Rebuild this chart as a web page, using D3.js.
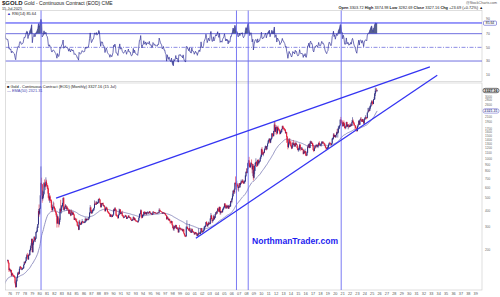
<!DOCTYPE html>
<html>
<head>
<meta charset="utf-8">
<script src="https://cdn.jsdelivr.net/npm/d3@7"></script>
<style>
    html, body { margin: 0; padding: 0; background: #fff; }
    svg { display: block; font-family: "Liberation Sans", Arial, sans-serif; }
</style>
</head>
<body>
<div id="chart"></div>
<script>
// monthly closes used only to warm up EMA / RSI (Jan 1972 - Jun 1975)
var warmupCloses = [
    48.3, 48.3, 48.3, 49.0, 54.6, 65.1, 67.0, 67.0, 65.5, 64.8, 62.9, 63.9,
    65.1, 74.2, 84.5, 90.5, 102.0, 120.0, 120.0, 106.8, 103.0, 100.1, 90.0, 106.7,
    129.0, 150.2, 168.4, 172.2, 163.3, 142.8, 154.1, 154.6, 151.8, 158.8, 181.7, 186.5,
    175.8, 181.8, 178.2, 167.0, 167.0, 165.5
];

// drawn bars start Jul 1975
var closes1970s = [
    166.7, 159.8, 141.3, 142.9, 138.2, 140.3,
    128.2, 132.3, 128.8, 128.4, 125.5, 123.8, 112.5, 104.3, 116.0, 123.2, 130.3, 134.5,
    132.3, 142.8, 148.9, 147.8, 143.0, 143.0, 144.1, 146.0, 154.1, 161.5, 160.5, 164.9,
    175.8, 182.3, 181.6, 170.9, 183.9, 183.1, 200.3, 208.1, 217.1, 242.6, 193.4, 226.0,
    233.7, 251.3, 240.1, 245.3, 274.6, 277.5, 296.5, 315.1, 397.3, 382.0, 415.7, 524.0
];
var highs1970s = [
    169, 168, 160, 146, 144, 141,
    141, 134, 134, 130, 129, 127, 124, 113, 118, 124, 134, 136,
    137, 144, 150, 151, 148, 144, 146, 147, 155, 164, 163, 166,
    177, 186, 190, 181, 185, 189, 201, 215, 225, 245, 245, 228,
    238, 256, 253, 247, 276, 282, 303, 316, 412, 446, 418, 525
];
var lows1970s = [
    163, 157, 136, 139, 137, 134,
    126, 127, 128, 126, 124, 122, 109, 103, 104, 115, 122, 129,
    129, 131, 142, 146, 141, 140, 141, 143, 145, 154, 157, 158,
    165, 172, 177, 168, 168, 180, 183, 195, 200, 217, 193, 191,
    218, 232, 233, 230, 244, 270, 276, 295, 315, 360, 372, 415
];

var closes1980s = [
    653.0, 637.0, 494.5, 517.5, 535.5, 653.5, 614.3, 631.3, 666.8, 629.0, 619.8, 589.8,
    506.5, 489.0, 513.8, 482.8, 479.0, 426.0, 406.0, 425.0, 428.8, 427.0, 414.5, 397.5,
    387.0, 362.6, 320.0, 361.3, 325.3, 317.5, 342.0, 411.5, 397.0, 423.3, 436.0, 456.9,
    499.5, 408.5, 414.8, 429.3, 437.5, 416.0, 422.0, 414.3, 405.0, 382.0, 405.0, 382.4,
    370.0, 394.3, 388.5, 375.8, 384.3, 373.8, 342.4, 347.7, 343.8, 333.5, 329.0, 309.0,
    306.7, 287.8, 329.3, 321.4, 314.0, 317.8, 327.5, 333.3, 326.0, 325.3, 325.3, 327.0,
    345.5, 338.8, 344.0, 345.8, 343.2, 345.5, 357.5, 384.7, 423.2, 401.0, 383.5, 391.0,
    404.2, 405.5, 419.4, 452.0, 451.0, 447.3, 462.5, 453.4, 459.5, 466.5, 492.5, 486.5,
    458.0, 426.2, 457.0, 451.5, 455.5, 436.6, 437.4, 427.8, 397.8, 412.2, 422.6, 410.2,
    394.0, 387.0, 383.2, 378.5, 362.5, 373.0, 368.3, 359.8, 366.5, 375.3, 408.2, 401.0
];
var highs1980s = [
    873, 716, 640, 570, 560, 660, 695, 640, 720, 690, 650, 630,
    600, 520, 545, 525, 490, 487, 430, 445, 470, 460, 432, 420,
    400, 390, 365, 375, 350, 330, 350, 420, 485, 440, 440, 460,
    505, 510, 425, 438, 450, 440, 430, 432, 420, 405, 410, 408,
    384, 410, 404, 390, 396, 390, 375, 356, 352, 348, 348, 330,
    312, 310, 337, 340, 324, 318, 330, 345, 330, 329, 332, 332,
    355, 350, 348, 350, 348, 348, 360, 390, 442, 430, 405, 392,
    410, 412, 421, 480, 470, 455, 475, 465, 468, 488, 494, 502,
    490, 458, 458, 460, 458, 462, 442, 440, 430, 418, 430, 425,
    415, 395, 395, 387, 380, 375, 376, 370, 369, 375, 410, 418
];
var lows1980s = [
    530, 600, 460, 478, 500, 540, 600, 575, 630, 610, 590, 540,
    500, 475, 460, 475, 460, 418, 390, 400, 410, 422, 402, 391,
    372, 360, 297, 325, 325, 298, 310, 328, 390, 380, 403, 430,
    455, 405, 400, 412, 425, 410, 400, 408, 400, 380, 375, 378,
    363, 366, 385, 370, 370, 370, 340, 340, 338, 333, 324, 307,
    300, 284, 284, 315, 310, 312, 313, 326, 318, 323, 322, 321,
    325, 334, 330, 336, 338, 338, 345, 355, 382, 400, 380, 380,
    388, 398, 400, 420, 445, 445, 445, 450, 450, 460, 465, 482,
    455, 426, 428, 447, 446, 436, 430, 427, 395, 398, 410, 410,
    393, 383, 380, 375, 360, 358, 364, 355, 358, 363, 373, 398
];

var closes1990s = [
    415.1, 407.7, 368.5, 367.8, 363.1, 352.2, 372.3, 387.8, 408.4, 379.5, 384.9, 386.2,
    366.0, 362.7, 355.7, 357.8, 360.4, 368.4, 362.9, 347.4, 354.9, 357.5, 366.3, 353.2,
    354.1, 353.1, 341.7, 336.4, 337.5, 343.4, 357.8, 340.0, 349.0, 339.3, 334.2, 333.0,
    330.5, 327.6, 337.8, 354.3, 377.5, 378.5, 401.8, 371.6, 355.5, 369.6, 370.9, 391.8,
    377.9, 381.6, 389.2, 376.5, 387.6, 388.3, 384.0, 385.8, 394.9, 383.1, 383.1, 383.3,
    374.9, 376.4, 392.0, 389.8, 384.3, 387.1, 383.4, 382.4, 384.0, 382.7, 387.8, 387.0,
    405.6, 400.7, 396.4, 392.9, 391.3, 382.0, 385.3, 387.4, 379.0, 379.5, 371.3, 369.3,
    345.5, 358.6, 348.2, 340.2, 345.6, 334.6, 326.4, 325.4, 332.1, 311.4, 296.8, 289.9,
    304.9, 297.4, 301.0, 310.7, 293.6, 296.3, 288.9, 273.4, 293.9, 292.3, 294.7, 288.0,
    287.1, 287.3, 279.5, 286.6, 268.6, 261.0, 255.6, 254.8, 299.0, 299.1, 291.4, 290.3
];
var highs1990s = [
    425, 423, 410, 376, 372, 363, 374, 415, 410, 410, 390, 390,
    400, 370, 370, 360, 361, 372, 370, 365, 357, 360, 368, 367,
    358, 358, 354, 343, 341, 347, 363, 358, 352, 348, 339, 337,
    334, 332, 338, 355, 380, 382, 409, 407, 367, 375, 375, 392,
    396, 385, 393, 390, 390, 396, 390, 389, 398, 397, 388, 385,
    385, 380, 396, 396, 390, 389, 389, 387, 386, 386, 389, 389,
    417, 415, 402, 397, 393, 392, 387, 389, 389, 384, 385, 375,
    370, 364, 358, 348, 350, 346, 335, 332, 336, 333, 314, 299,
    310, 306, 303, 313, 310, 301, 298, 290, 300, 311, 298, 296,
    292, 292, 291, 290, 290, 268, 262, 259, 305, 338, 303, 293
];
var lows1990s = [
    398, 405, 366, 360, 360, 346, 352, 368, 385, 375, 377, 375,
    365, 360, 349, 354, 354, 360, 361, 347, 346, 355, 356, 353,
    350, 350, 340, 333, 334, 337, 343, 340, 340, 339, 330, 332,
    327, 326, 326, 336, 354, 366, 377, 350, 349, 354, 362, 369,
    375, 375, 378, 370, 375, 383, 380, 376, 384, 383, 378, 376,
    372, 372, 376, 388, 383, 384, 382, 381, 382, 381, 382, 384,
    387, 396, 396, 392, 390, 382, 380, 385, 378, 378, 370, 367,
    342, 344, 347, 336, 338, 334, 318, 320, 320, 309, 294, 283,
    280, 290, 293, 300, 290, 288, 288, 273, 275, 287, 291, 282,
    283, 282, 278, 280, 268, 258, 252, 251, 256, 297, 290, 285
];

var closes2000s = [
    283.3, 293.7, 276.8, 276.8, 272.3, 288.2, 276.8, 277.0, 273.7, 264.5, 269.1, 272.7,
    265.6, 266.7, 257.7, 263.2, 267.5, 270.6, 265.8, 273.0, 293.1, 279.0, 275.5, 278.7,
    282.3, 296.9, 301.4, 308.2, 326.6, 318.5, 304.7, 312.8, 323.7, 316.9, 317.1, 348.2,
    367.5, 347.5, 334.9, 336.8, 361.4, 346.0, 354.8, 375.6, 388.0, 383.8, 398.4, 416.1,
    402.8, 395.9, 427.3, 387.5, 395.7, 395.8, 390.9, 410.0, 419.4, 427.9, 452.3, 438.0,
    422.2, 435.5, 427.5, 435.7, 416.2, 437.1, 429.0, 433.3, 473.2, 470.8, 495.7, 517.0,
    568.7, 556.0, 583.0, 654.5, 643.0, 616.0, 632.5, 623.9, 599.3, 603.8, 648.0, 632.0,
    650.5, 669.0, 663.0, 679.0, 659.0, 650.9, 666.9, 672.0, 743.0, 795.3, 783.5, 833.8,
    923.9, 971.5, 916.2, 865.1, 887.3, 928.3, 912.8, 833.0, 880.8, 718.9, 815.5, 883.5,
    928.4, 942.5, 924.0, 890.7, 978.8, 927.4, 953.7, 955.5, 1008.2, 1040.6, 1181.5, 1095.2
];
var highs2000s = [
    292, 317, 296, 286, 280, 294, 290, 281, 276, 275, 271, 275,
    274, 269, 270, 265, 293, 275, 270, 279, 295, 293, 283, 282,
    285, 304, 305, 310, 328, 333, 322, 316, 330, 326, 324, 349,
    384, 372, 352, 340, 372, 365, 365, 378, 391, 394, 399, 417,
    428, 414, 430, 428, 397, 397, 403, 410, 421, 432, 455, 458,
    440, 440, 446, 439, 437, 443, 433, 449, 475, 477, 497, 541,
    572, 575, 590, 655, 732, 650, 678, 650, 634, 613, 650, 649,
    656, 690, 674, 696, 694, 672, 685, 680, 746, 795, 848, 840,
    933, 978, 1033, 928, 905, 945, 988, 918, 912, 907, 823, 885,
    934, 1007, 963, 918, 982, 991, 960, 972, 1025, 1072, 1195, 1227
];
var lows2000s = [
    281, 281, 276, 271, 270, 272, 276, 271, 270, 263, 264, 268,
    263, 255, 256, 255, 263, 265, 264, 264, 270, 278, 270, 273,
    277, 283, 289, 299, 308, 312, 302, 304, 311, 313, 316, 318,
    342, 345, 322, 325, 339, 342, 342, 352, 373, 374, 377, 396,
    393, 391, 392, 372, 375, 385, 384, 390, 402, 410, 421, 428,
    413, 412, 424, 420, 414, 415, 417, 430, 433, 463, 455, 484,
    518, 538, 537, 582, 636, 543, 608, 614, 573, 560, 600, 610,
    602, 641, 638, 662, 650, 640, 650, 643, 671, 727, 776, 772,
    836, 880, 870, 855, 851, 862, 905, 773, 736, 682, 705, 760,
    805, 916, 865, 865, 880, 902, 905, 933, 953, 998, 1035, 1075
];

var closes2010s = [
    1081.5, 1118.9, 1115.5, 1179.3, 1212.2, 1244.5, 1181.7, 1248.3, 1307.8, 1357.6, 1386.1, 1421.4,
    1332.8, 1411.1, 1439.9, 1556.4, 1536.8, 1502.3, 1628.3, 1825.1, 1620.4, 1725.9, 1746.0, 1566.8,
    1738.0, 1710.8, 1669.3, 1664.0, 1559.7, 1604.3, 1614.8, 1691.5, 1776.3, 1719.1, 1713.5, 1675.8,
    1663.7, 1578.1, 1596.7, 1476.1, 1392.6, 1234.0, 1313.2, 1396.1, 1328.0, 1323.6, 1250.6, 1202.3,
    1240.1, 1321.4, 1283.8, 1295.9, 1246.0, 1322.0, 1281.3, 1286.4, 1210.5, 1171.1, 1175.5, 1199.3,
    1278.5, 1212.6, 1183.1, 1184.2, 1189.8, 1171.8, 1095.4, 1132.0, 1114.8, 1142.1, 1065.3, 1060.3,
    1116.4, 1234.4, 1233.9, 1290.5, 1214.8, 1320.6, 1351.3, 1309.0, 1315.8, 1272.7, 1173.5, 1151.7,
    1210.7, 1252.6, 1249.2, 1268.3, 1268.9, 1242.3, 1269.5, 1322.2, 1280.5, 1271.1, 1275.3, 1309.3,
    1343.1, 1318.3, 1327.3, 1315.9, 1298.5, 1253.5, 1223.4, 1206.7, 1192.5, 1215.0, 1222.5, 1282.7,
    1321.2, 1316.1, 1298.5, 1285.7, 1310.9, 1413.7, 1437.8, 1529.4, 1472.9, 1514.8, 1463.7, 1523.1
];
var highs2010s = [
    1163, 1127, 1137, 1190, 1250, 1266, 1245, 1250, 1310, 1388, 1425, 1432,
    1424, 1412, 1447, 1576, 1570, 1557, 1633, 1912, 1923, 1747, 1804, 1764,
    1764, 1792, 1720, 1676, 1668, 1642, 1626, 1692, 1790, 1798, 1755, 1725,
    1696, 1681, 1617, 1598, 1488, 1424, 1348, 1434, 1434, 1361, 1362, 1268,
    1280, 1345, 1392, 1331, 1315, 1326, 1346, 1324, 1288, 1255, 1207, 1239,
    1307, 1291, 1224, 1224, 1232, 1205, 1175, 1170, 1159, 1192, 1144, 1088,
    1128, 1263, 1287, 1304, 1305, 1362, 1377, 1366, 1352, 1326, 1307, 1181,
    1220, 1264, 1262, 1297, 1275, 1297, 1276, 1331, 1362, 1306, 1300, 1310,
    1366, 1365, 1356, 1352, 1326, 1309, 1265, 1224, 1214, 1246, 1239, 1286,
    1326, 1349, 1326, 1303, 1311, 1442, 1453, 1566, 1566, 1521, 1516, 1524
];
var lows2010s = [
    1072, 1045, 1088, 1120, 1164, 1208, 1156, 1185, 1241, 1315, 1334, 1358,
    1309, 1329, 1383, 1419, 1462, 1478, 1478, 1603, 1535, 1602, 1668, 1522,
    1563, 1696, 1627, 1613, 1527, 1550, 1564, 1588, 1678, 1694, 1673, 1636,
    1626, 1555, 1565, 1321, 1338, 1180, 1208, 1269, 1292, 1251, 1221, 1182,
    1202, 1239, 1278, 1268, 1240, 1240, 1281, 1273, 1206, 1160, 1131, 1142,
    1167, 1198, 1142, 1170, 1167, 1162, 1077, 1085, 1098, 1111, 1052, 1045,
    1062, 1112, 1208, 1211, 1200, 1208, 1310, 1302, 1302, 1241, 1160, 1124,
    1146, 1211, 1195, 1245, 1215, 1238, 1205, 1267, 1276, 1261, 1264, 1238,
    1302, 1307, 1304, 1315, 1283, 1251, 1211, 1160, 1182, 1187, 1196, 1222,
    1276, 1311, 1291, 1267, 1270, 1311, 1393, 1412, 1465, 1465, 1454, 1459
];

var closes2020s = [
    1587.9, 1566.7, 1596.6, 1694.2, 1751.7, 1800.5, 1985.9, 1978.6, 1895.5, 1879.9, 1780.9, 1895.1,
    1850.3, 1728.8, 1715.6, 1769.1, 1906.9, 1771.6, 1817.2, 1818.1, 1757.0, 1784.9, 1776.5, 1829.2,
    1797.0, 1909.8, 1954.0, 1911.7, 1848.4, 1807.3, 1781.8, 1726.2, 1672.0, 1640.7, 1768.8, 1826.2,
    1945.3, 1836.7, 1986.2, 1999.1, 1982.1, 1929.4, 2009.2, 1965.9, 1870.2, 2005.4, 2057.2, 2071.8,
    2067.4, 2054.7, 2254.8, 2302.9, 2345.8, 2339.6, 2473.0, 2536.8, 2659.4, 2744.8, 2681.0, 2641.0,
    2835.0, 2858.4, 3150.3, 3305.0, 3315.4, 3307.7, 3327.16
];
var highs2020s = [
    1611, 1691, 1704, 1788, 1775, 1804, 2005, 2089, 1994, 1934, 1966, 1906,
    1962, 1877, 1756, 1798, 1919, 1917, 1836, 1834, 1837, 1815, 1877, 1831,
    1853, 1976, 2078, 1998, 1909, 1879, 1790, 1808, 1735, 1683, 1786, 1833,
    1975, 1959, 2007, 2063, 2085, 1986, 2019, 1997, 1953, 2019, 2077, 2152,
    2088, 2072, 2256, 2448, 2454, 2387, 2537, 2570, 2708, 2801, 2801, 2726,
    2863, 2974, 3177, 3509, 3437, 3476, 3374.98
];
var lows2020s = [
    1518, 1563, 1451, 1577, 1681, 1707, 1798, 1883, 1849, 1860, 1765, 1775,
    1802, 1717, 1677, 1727, 1768, 1750, 1767, 1678, 1722, 1747, 1761, 1753,
    1781, 1788, 1891, 1891, 1786, 1805, 1681, 1719, 1615, 1618, 1617, 1767,
    1824, 1809, 1810, 1969, 1942, 1911, 1921, 1910, 1858, 1824, 1984, 2009,
    2002, 2011, 2054, 2291, 2300, 2296, 2327, 2400, 2500, 2640, 2563, 2598,
    2633, 2833, 2856, 3014, 3205, 3282, 3282.69
];

// header values of the last (partial) month
var lastBar = ["3303.72", "3374.98", "3282.69", "3327.16", "+23.69", "(+0.72%)"];
var rsiLevel = 85.64;

// axis ticks
var yearTicks = d3.range(1976, 2040);
var priceTicks = [200, 300, 400, 500, 600, 700, 800, 900, 1000, 1100, 1200, 1300, 1400, 1500,
    1600, 1700, 1800, 1900, 2000, 2100, 2200, 2300, 2400, 2500, 2600, 2700, 2800, 2900, 3000, 3100, 3200];
var rsiTicks = [10, 30, 50, 70, 90];

// user drawn annotations: trendlines (date, price) and vertical markers
var upperTrend = [[new Date(1982, 1, 1), 500], [new Date(2032, 8, 1), 5040]];
var lowerTrend = [[new Date(2001, 0, 1), 246], [new Date(2033, 8, 1), 4354]];
var markerDates = [new Date(1980, 0, 20), new Date(2006, 6, 1), new Date(2008, 1, 1), new Date(2020, 8, 1)];

/////////////////////////////////////

var W = 500, H = 297;
var rsiBox = { left: 5.5, right: 482, top: 10.5, bottom: 81.5 };
var priceBox = { left: 5.5, right: 482, top: 83, bottom: 290 };

var svg = d3.select("#chart").append("svg")
    .attr("width", W).attr("height", H)
    .attr("viewBox", "0 0 " + W + " " + H);

// scales
var x = d3.scaleTime()
    .domain([new Date(1976, 0, 1), new Date(2039, 0, 1)])
    .range([11.1, 11.1 + 63 * 7.39]);
var y = d3.scaleLog().domain([200, 2000]).range([250, 119.4]);
var yr = d3.scaleLinear().domain([10, 90]).range([74.7, 20]);

// build bars
var closes = [].concat(closes1970s, closes1980s, closes1990s, closes2000s, closes2010s, closes2020s);
var highs = [].concat(highs1970s, highs1980s, highs1990s, highs2000s, highs2010s, highs2020s);
var lows = [].concat(lows1970s, lows1980s, lows1990s, lows2000s, lows2010s, lows2020s);
var start = new Date(1975, 6, 1);
var bars = closes.map(function(c, i) {
    var d = d3.timeMonth.offset(start, i);
    return {
        date: new Date(d.getFullYear(), d.getMonth(), 15),
        open: i ? closes[i - 1] : warmupCloses[warmupCloses.length - 1],
        high: highs[i], low: lows[i], close: c
    };
});
bars[bars.length - 1].open = +lastBar[0];

// indicators over the whole close history
var allCloses = warmupCloses.concat(closes);
var allDates = allCloses.map(function(c, i) {
    var d = d3.timeMonth.offset(new Date(1972, 0, 1), i);
    return new Date(d.getFullYear(), d.getMonth(), 15);
});
var k = 2 / 51, ema = [];
allCloses.forEach(function(c, i) { ema.push(i ? c * k + ema[i - 1] * (1 - k) : c); });

var rsi = [], ag = 0, al = 0;
for (var i = 1; i < allCloses.length; i++) {
    var ch = allCloses[i] - allCloses[i - 1];
    var g = Math.max(ch, 0), l = Math.max(-ch, 0);
    if (i <= 14) {
        ag += g / 14; al += l / 14;
        if (i < 14) continue;
    } else {
        ag = (ag * 13 + g) / 14; al = (al * 13 + l) / 14;
    }
    rsi.push({ date: allDates[i], v: 100 - 100 / (1 + ag / al) });
}
var emaPts = allDates.map(function(d, i) { return { date: d, v: ema[i] }; });
var emaLast = ema[ema.length - 1];

// clips
var defs = svg.append("defs");
defs.append("clipPath").attr("id", "clipRsi").append("rect")
    .attr("x", rsiBox.left).attr("y", rsiBox.top)
    .attr("width", rsiBox.right - rsiBox.left).attr("height", rsiBox.bottom - rsiBox.top);
defs.append("clipPath").attr("id", "clipPrice").append("rect")
    .attr("x", priceBox.left).attr("y", priceBox.top)
    .attr("width", priceBox.right - priceBox.left).attr("height", priceBox.bottom - priceBox.top);

// panel frames
[rsiBox, priceBox].forEach(function(b) {
    svg.append("rect")
        .attr("x", b.left).attr("y", b.top)
        .attr("width", b.right - b.left).attr("height", b.bottom - b.top)
        .attr("fill", "none").attr("stroke", "#c8c8c8").attr("stroke-width", 0.6);
});

// ---------- RSI panel ----------
var rsiG = svg.append("g").attr("clip-path", "url(#clipRsi)");

rsiG.append("path").datum(rsi)
    .attr("fill", "#56608e")
    .attr("d", d3.area().x(function(d) { return x(d.date); })
        .y0(yr(70)).y1(function(d) { return yr(Math.max(d.v, 70)); }));
rsiG.append("path").datum(rsi)
    .attr("fill", "#56608e")
    .attr("d", d3.area().x(function(d) { return x(d.date); })
        .y0(yr(30)).y1(function(d) { return yr(Math.min(d.v, 30)); }));

[70, 30].forEach(function(v) {
    rsiG.append("line")
        .attr("x1", rsiBox.left).attr("x2", rsiBox.right)
        .attr("y1", yr(v)).attr("y2", yr(v))
        .attr("stroke", "#4b4bd8").attr("stroke-width", 0.8);
});
rsiG.append("line")
    .attr("x1", rsiBox.left).attr("x2", rsiBox.right)
    .attr("y1", yr(50)).attr("y2", yr(50))
    .attr("stroke", "#5a5ad8").attr("stroke-width", 0.7)
    .attr("stroke-dasharray", "4,1.5,1,1.5");

rsiG.append("path").datum(rsi)
    .attr("fill", "none").attr("stroke", "#34349a").attr("stroke-width", 0.7)
    .attr("d", d3.line().x(function(d) { return x(d.date); }).y(function(d) { return yr(d.v); }));

// user line at current RSI level
svg.append("line")
    .attr("x1", rsiBox.left).attr("x2", rsiBox.right)
    .attr("y1", yr(rsiLevel)).attr("y2", yr(rsiLevel))
    .attr("stroke", "#3535f5").attr("stroke-width", 1);

// RSI axis labels
svg.selectAll(".rsiTick").data(rsiTicks).enter().append("text")
    .attr("x", 486).attr("y", function(d) { return d === 90 ? yr(d) + 0.2 : yr(d) + 1.2; })
    .attr("font-size", 3.4).attr("fill", "#555")
    .text(function(d) { return d; });
svg.append("rect")
    .attr("x", 483.5).attr("y", yr(rsiLevel) - 1.9).attr("width", 13).attr("height", 4.2).attr("rx", 1)
    .attr("fill", "#fff").attr("stroke", "#3535c0").attr("stroke-width", 0.5);
svg.append("text")
    .attr("x", 490).attr("y", yr(rsiLevel) + 1.4).attr("text-anchor", "middle")
    .attr("font-size", 3.4).attr("fill", "#222").text(rsiLevel.toFixed(2));

// ---------- price panel ----------
var pG = svg.append("g").attr("clip-path", "url(#clipPrice)");

pG.append("path").datum(emaPts)
    .attr("fill", "none").attr("stroke", "#7a7ab4").attr("stroke-width", 0.8)
    .attr("d", d3.line().x(function(d) { return x(d.date); }).y(function(d) { return y(d.v); }));

var barG = pG.selectAll(".bar").data(bars).enter().append("g")
    .attr("stroke", function(d) { return d.close >= d.open ? "#23237a" : "#e0102e"; });
barG.append("line")
    .attr("x1", function(d) { return x(d.date); }).attr("x2", function(d) { return x(d.date); })
    .attr("y1", function(d) { return y(d.high); }).attr("y2", function(d) { return y(d.low); })
    .attr("stroke-width", 0.55);
barG.append("line")
    .attr("x1", function(d) { return x(d.date); }).attr("x2", function(d) { return x(d.date); })
    .attr("y1", function(d) { return y(Math.max(d.open, d.close)); })
    .attr("y2", function(d) { return y(Math.min(d.open, d.close)) + 0.3; })
    .attr("stroke-width", 0.9);

// price axis labels: skip ones that would collide with each other or the value boxes
var boxPrices = [emaLast, +lastBar[3]];
var keptTicks = [], lastY = Infinity;
priceTicks.forEach(function(p) {
    var py = y(p);
    var nearBox = boxPrices.some(function(b) { return Math.abs(y(b) - py) < 4.6; });
    if (!nearBox && lastY - py >= 3.4) { keptTicks.push(p); lastY = py; }
});
svg.selectAll(".pTick").data(keptTicks).enter().append("text")
    .attr("x", 485).attr("y", function(d) { return y(d) + 1.1; })
    .attr("font-size", 3.1).attr("fill", "#666")
    .text(function(d) { return d; });

// last price and EMA value boxes
function valueBox(v, stroke, fill, color) {
    svg.append("rect")
        .attr("x", 483).attr("y", y(v) - 2.2).attr("width", 16).attr("height", 4.4).attr("rx", 2)
        .attr("fill", fill).attr("stroke", stroke).attr("stroke-width", 0.6);
    svg.append("text")
        .attr("x", 491).attr("y", y(v) + 1.3).attr("text-anchor", "middle")
        .attr("font-size", 3.7).attr("font-weight", "bold").attr("fill", color)
        .text(v.toFixed(2));
}
valueBox(emaLast, "#6f6fd0", "#fff", "#55559a");
valueBox(+lastBar[3], "#222", "#e6e6e6", "#111");

// x axis labels
svg.selectAll(".yTick").data(yearTicks).enter().append("text")
    .attr("x", function(d) { return x(new Date(d, 0, 1)) - 1; })
    .attr("y", 295).attr("text-anchor", "middle")
    .attr("font-size", 3.8).attr("fill", "#555")
    .text(function(d) { return d3.format("02")(d % 100); });

// ---------- annotations ----------
svg.selectAll(".marker").data(markerDates).enter().append("line")
    .attr("x1", function(d) { return x(d); }).attr("x2", function(d) { return x(d); })
    .attr("y1", rsiBox.top).attr("y2", priceBox.bottom)
    .attr("stroke", "#6b6bf2").attr("stroke-width", 0.9);

[upperTrend, lowerTrend].forEach(function(t) {
    svg.append("line")
        .attr("x1", x(t[0][0])).attr("y1", y(t[0][1]))
        .attr("x2", x(t[1][0])).attr("y2", y(t[1][1]))
        .attr("stroke", "#3434f2").attr("stroke-width", 1.3);
});

svg.append("text")
    .attr("x", 252).attr("y", 243.5)
    .attr("font-size", 9).attr("font-weight", "bold").attr("fill", "#1c1cf0")
    .attr("textLength", 86).attr("lengthAdjust", "spacingAndGlyphs")
    .text("NorthmanTrader.com");

// ---------- header texts ----------
var head = svg.append("g").attr("fill", "#222");
head.append("text").attr("x", 2).attr("y", 5).attr("font-size", 5)
    .html('<tspan font-weight="bold" font-size="6">$GOLD</tspan> Gold - Continuous Contract (EOD) CME');
head.append("text").attr("x", 2).attr("y", 9.6).attr("font-size", 3.8).text("15-Jul-2025");
head.append("text").attr("x", 497).attr("y", 4).attr("text-anchor", "end")
    .attr("font-size", 3.6).attr("fill", "#555").text("@StockCharts.com");
head.append("text").attr("x", 483).attr("y", 9).attr("text-anchor", "end").attr("font-size", 3.9)
    .html('<tspan font-weight="bold">Open</tspan> ' + lastBar[0] +
        ' <tspan font-weight="bold">High</tspan> ' + lastBar[1] +
        ' <tspan font-weight="bold">Low</tspan> ' + lastBar[2] +
        ' <tspan font-weight="bold">Close</tspan> ' + lastBar[3] +
        ' <tspan font-weight="bold">Chg</tspan> ' + lastBar[4] + ' ' + lastBar[5] + ' \u25B2');

head.append("text").attr("x", 7).attr("y", 14.6).attr("font-size", 3.9)
    .html('<tspan fill="#3535c0">\u25B2</tspan> RSI(14) ' + rsiLevel.toFixed(2));

head.append("text").attr("x", 7).attr("y", 87.6).attr("font-size", 3.9)
    .text("\u25A0 Gold - Continuous Contract (EOD) (Monthly) " + lastBar[3] + " (15 Jul)");
head.append("text").attr("x", 7).attr("y", 92).attr("font-size", 3.9).attr("fill", "#4848b0")
    .text("\u2014 EMA(50) " + emaLast.toFixed(2));
</script>
</body>
</html>
